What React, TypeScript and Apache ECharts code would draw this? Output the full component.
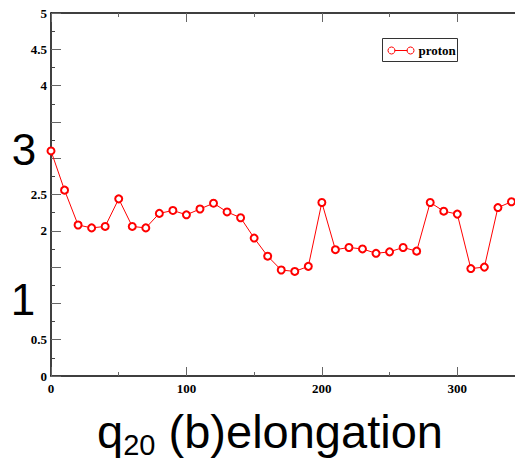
import React, { useEffect, useRef } from "react";
import * as echarts from "echarts";

const xValues = [0, 10, 20, 30, 40, 50, 60, 70, 80, 90, 100, 110, 120, 130, 140, 150, 160, 170, 180, 190, 200, 210, 220, 230, 240, 250, 260, 270, 280, 290, 300, 310, 320, 330, 340];
const protonValues = [3.10, 2.56, 2.08, 2.04, 2.06, 2.44, 2.06, 2.04, 2.24, 2.28, 2.22, 2.30, 2.38, 2.26, 2.18, 1.90, 1.65, 1.46, 1.44, 1.51, 2.39, 1.74, 1.77, 1.75, 1.69, 1.71, 1.77, 1.72, 2.39, 2.27, 2.23, 1.48, 1.50, 2.32, 2.40];
const yTickLabels: Record<string, string> = { "0": "0", "0.5": "0.5", "2": "2", "2.5": "2.5", "4": "4", "4.5": "4.5", "5": "5" };
const seriesName = "proton";

export default function App() {
  const ref = useRef<HTMLDivElement>(null);
  useEffect(() => {
    document.body.style.margin = "0";
    const chart = echarts.init(ref.current!, null, { renderer: "svg" });
    const serif = "Liberation Serif";
    const labelStyle = { fontFamily: serif, fontWeight: "bold" as const, fontSize: 13, color: "#000" };
    chart.setOption({
      animation: false,
      backgroundColor: "#fff",
      grid: { left: 51, top: 13, width: 474, height: 363, outerBoundsMode: "none", containLabel: false },
      xAxis: [
        {
          type: "value", min: 0, max: 350, interval: 100,
          axisLine: { show: true, lineStyle: { color: "#000", width: 1.5 } },
          axisTick: { inside: true, length: 9, lineStyle: { color: "#666" } },
          minorTick: { show: true, splitNumber: 2, length: 4, lineStyle: { color: "#666" } },
          splitLine: { show: false },
          axisLabel: { ...labelStyle, margin: 6, showMaxLabel: false },
        },
        {
          type: "value", position: "top", min: 0, max: 350, interval: 100,
          axisLine: { show: true, lineStyle: { color: "#000", width: 1.5 } },
          axisTick: { inside: true, length: 9, lineStyle: { color: "#666" } },
          minorTick: { show: true, splitNumber: 2, length: 4, lineStyle: { color: "#666" } },
          splitLine: { show: false },
          axisLabel: { show: false },
        },
      ],
      yAxis: {
        type: "value", min: 0, max: 5, interval: 0.5,
        axisLine: { show: true, lineStyle: { color: "#000", width: 1.5 } },
        axisTick: { inside: true, length: 10, lineStyle: { color: "#666" } },
        minorTick: { show: true, splitNumber: 2, length: 4, lineStyle: { color: "#444" } },
        splitLine: { show: false },
        axisLabel: { ...labelStyle, margin: 4, formatter: (v: number) => yTickLabels[String(v)] ?? "" },
      },
      series: [
        {
          name: seriesName,
          type: "line",
          xAxisIndex: 0,
          data: xValues.map((x, i) => [x, protonValues[i]]),
          symbol: "emptyCircle",
          symbolSize: 7,
          lineStyle: { color: "#ff0000", width: 1 },
          itemStyle: { color: "#ff0000", borderColor: "#ff0000", borderWidth: 0.9 },
        },
      ],
      graphic: [
        {
          type: "group", left: 382, top: 38,
          children: [
            { type: "rect", shape: { x: 0, y: 0, width: 75, height: 23 }, style: { fill: "#fff", stroke: "#333", lineWidth: 1 } },
            { type: "line", shape: { x1: 12, y1: 12, x2: 25, y2: 12 }, style: { stroke: "#ff0000", lineWidth: 1 } },
            { type: "circle", shape: { cx: 9, cy: 12, r: 3.5 }, style: { fill: "none", stroke: "#ff0000", lineWidth: 1 } },
            { type: "circle", shape: { cx: 28, cy: 12, r: 3.5 }, style: { fill: "none", stroke: "#ff0000", lineWidth: 1 } },
            { type: "text", x: 36, y: 12, style: { text: seriesName, font: `bold 13px "${serif}"`, fill: "#000", verticalAlign: "middle" } },
          ],
        },
        { type: "text", x: 24, y: 149, style: { text: "3", font: '44px "Liberation Sans"', fill: "#000", align: "center", verticalAlign: "middle" } },
        { type: "text", x: 23, y: 299, style: { text: "1", font: '44px "Liberation Sans"', fill: "#000", align: "center", verticalAlign: "middle" } },
        {
          type: "text", x: 270, y: 431,
          style: {
            text: "{a|q}{s|20}{a| (b)elongation}",
            align: "center", verticalAlign: "middle",
            rich: {
              a: { fontFamily: "Liberation Sans", fontSize: 47, color: "#000" },
              s: { fontFamily: "Liberation Sans", fontSize: 29, color: "#000", padding: [28, 0, 0, 0] },
            },
          },
        },
      ],
    });
    return () => chart.dispose();
  }, []);
  return <div ref={ref} style={{ width: 515, height: 463 }} />;
}
